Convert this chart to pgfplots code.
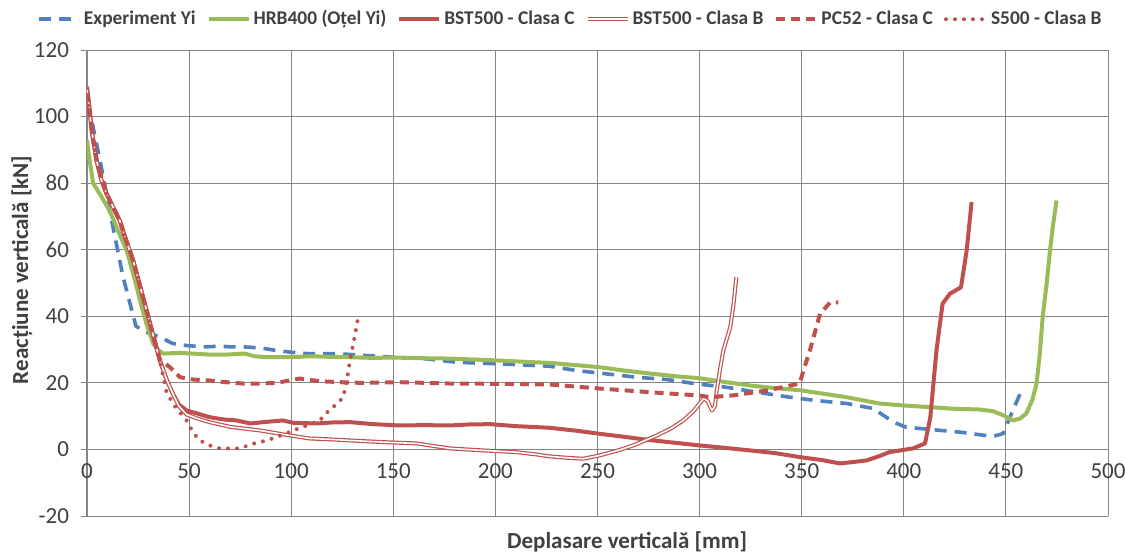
\documentclass[border=0pt]{standalone}
\usepackage{fontspec}
\setmainfont{Carlito}
\usepackage{pgfplots}
\pgfplotsset{compat=1.18}
\definecolor{cblue}{HTML}{4F81BD}
\definecolor{cgreen}{HTML}{9BBB59}
\definecolor{cred}{HTML}{C0504D}
\definecolor{cgrid}{HTML}{868686}
\definecolor{ctext}{HTML}{404040}
\begin{document}
\begin{tikzpicture}
\begin{axis}[
  at={(0,0)}, anchor=south west,
  scale only axis, width=510.5pt, height=233pt,
  xmin=0, xmax=500, ymin=-20, ymax=120,
  xtick={0,50,...,500}, ytick={-20,0,...,120},
  axis x line=middle, axis y line=left,
  axis line style={-, cgrid, line width=0.6pt},
  hide obscured x ticks=false, hide obscured y ticks=false,
  grid=major, grid style={cgrid, line width=0.5pt},
  tick style={cgrid, line width=0.5pt}, tick align=outside, major tick length=3pt,
  /pgf/number format/assume math mode=true,
  ticklabel style={font=\fontsize{11.5}{13}\selectfont, text=ctext},
  yticklabel style={xshift=-2.5pt},
  xticklabel style={yshift=-0.5pt},
  xlabel={Deplasare verticală [mm]},
  ylabel={Reacțiune verticală [kN]},
  xlabel style={at={(axis description cs:0.529,-0.056)}, anchor=center, font=\bfseries\fontsize{11.5}{13}\selectfont, text=ctext},
  ylabel style={at={(axis description cs:-0.0637,0.528)}, anchor=center, rotate=0, font=\bfseries\fontsize{11.5}{13}\selectfont, text=ctext},
  legend columns=6,
  legend style={at={(axis description cs:0.474,1.066)}, anchor=center, draw=none, fill=none,
    font=\bfseries\fontsize{9.7}{12}\selectfont, text=ctext,
    /tikz/every even column/.append style={column sep=4pt},
    nodes={inner xsep=1.5pt}},
  legend image code/.code={\draw[#1] (0pt,0pt) -- (20pt,0pt);},
  line join=round,
]
% Experiment Yi
\addplot[cblue, line width=1.8pt, dash pattern=on 6pt off 4pt] coordinates {
(0.5,104) (2.3,98.8) (6.4,86.8) (11,72) (17.7,51.7) (24,37) (30,35) (36,33.7) (42,31.8) (49,31.2) (57,30.8) (65,31) (71,30.8) (77,30.8) (85,30.5) (93,29.7) (100,29.2) (107.6,28.8) (122,28.8) (137,28.2) (150,27.7) (164.6,27.3) (181,26.2) (197,25.8) (210,25.5) (226.7,25) (239.8,23.7) (254.5,22.7) (269,21.7) (284,21) (298.6,19.7) (313,18.7) (328,17.2) (344,15.7) (357,14.7) (372,13.8) (385,12.3) (395,8.2) (401,6.7) (413,6) (427.5,5.2) (443.7,3.9) (448.7,4.8) (452,9.7) (457,16.8)
};
\addlegendentry{Experiment Yi}
% HRB400
\addplot[cgreen, line width=2pt] coordinates {
(0,93) (1,88) (3,80) (7,76) (11,71.8) (15,66) (19.4,59.8) (23,52) (26,44.7) (29,38) (32.4,31.8) (35,29.8) (37.3,28.8) (45,29) (52,28.8) (60,28.5) (68,28.5) (77.3,28.8) (82,28) (88,27.7) (99.7,27.7) (109,28) (120,27.8) (128.8,27.7) (140,27.5) (150,27.6) (165,27.4) (177.8,27.3) (190,27) (202,26.7) (215,26.3) (226.7,26) (240,25.3) (251,24.7) (263,23.7) (275.7,22.8) (288,22) (300,21.4) (312,20.3) (324.7,19.2) (339,18.3) (349,17.8) (360,16.8) (372,15.7) (388,13.8) (400,13.2) (413,12.7) (425,12.2) (437,12) (443.7,11.5) (449,10.2) (453.5,8.7) (457,9.3) (460,10.8) (463,15) (465,19.8) (466.5,28) (468,39.7) (470,50) (471.6,59.8) (473,67) (474.8,74.8)
};
\addlegendentry{HRB400 (Oțel Yi)}
% BST500 C
\addplot[cred, line width=2pt] coordinates {
(0,109) (1,104) (2.5,95) (4.7,86.8) (7,81) (9.6,76.8) (13,72.5) (16,68.8) (19,63) (22.6,56.8) (26,49) (29.2,41.7) (32.5,34) (35.7,26.7) (39,21) (42,16.8) (45,13.5) (48.8,11.7) (54,10.8) (60,9.7) (67,9) (73.3,8.7) (80,7.8) (88,8.3) (96,8.7) (101,8) (112.5,7.8) (120,8.1) (128.8,8.2) (140,7.6) (153,7.2) (165,7.3) (177.8,7.2) (187,7.5) (197.4,7.6) (210,7) (226.7,6.5) (240,5.6) (251,4.7) (263,3.8) (275.7,2.8) (288,2) (300,1.2) (312,0.5) (324.7,-0.3) (337,-1.1) (349,-2.3) (360,-3.2) (368.7,-4.2) (375,-3.8) (381.8,-3.3) (388,-2) (393,-0.8) (404.5,0.3) (410.4,1.8) (413,9.7) (416,29.7) (419,43.8) (422.6,46.8) (428,48.7) (430.8,59.8) (433.2,74.3)
};
\addlegendentry{BST500 - Clasa C}
% BST500 B
\addplot[cred, line width=0.6pt, double=white, double distance=0.8pt] coordinates {
(0,108) (1,103) (2.5,95) (4.7,86.8) (7,81) (9.6,76.8) (13,72.5) (16,68.8) (19,63) (22.6,56.8) (26,49) (29.2,41.7) (32.5,34) (35.7,26.7) (39,21) (42,16.8) (45,13) (48.8,10.5) (54,9.3) (60,8.2) (70,6.8) (84.7,5.7) (99.4,4.2) (109,3.3) (120,3) (128.8,2.7) (145,2.2) (161.5,1.8) (170,1) (177.8,0.3) (194,-0.3) (210,-0.8) (220,-1.5) (226.7,-2.1) (235,-2.5) (243,-2.8) (251,-1.8) (260,-0.3) (267.5,1.2) (279,4.2) (286,6.3) (292,8.7) (297,11.5) (302,15.3) (304,14.5) (306,11.7) (307.5,13) (308.4,17.7) (310,24) (311.6,29.7) (315,36.7) (316.5,43) (318,51.7)
};
\addlegendentry{BST500 - Clasa B}
% PC52 C
\addplot[cred, line width=2pt, dash pattern=on 4.5pt off 3pt] coordinates {
(0,107) (2.5,95) (4.7,86.8) (9.6,76.8) (16,68.8) (22.6,56.8) (29.2,41.7) (32.5,34) (35.7,27) (40.6,24.7) (45.5,21.7) (52,21) (60,20.7) (68,20.2) (76.4,19.8) (85,19.8) (93,20) (104,21.3) (114,20.5) (124,20.2) (134,20) (153,20.2) (177.8,19.8) (202,19.7) (227,19.5) (251,18.3) (275.7,17.2) (300,16.2) (305,15.7) (316,16.2) (333,17.7) (349,19.8) (351,24) (354,29.7) (359,40.8) (364,44.2) (368,44.2)
};
\addlegendentry{PC52 - Clasa C}
% S500 B
\addplot[cred, line width=2pt, dash pattern=on 0pt off 4.5pt, line cap=round] coordinates {
(0,106) (2.5,95) (4.7,86.8) (9.6,76.8) (16,68.8) (22.6,56.8) (29.2,41.7) (32.5,34) (35.7,26.7) (39,17) (43,13) (48.8,8.7) (52,5) (55.3,2.7) (60,1.2) (65,0.3) (75,0.3) (80,1.5) (88,2.7) (95,4.2) (101,5.7) (108,7.3) (114,8.7) (117,10.8) (121,13) (124,14.7) (125.5,15.7) (127,20) (128.8,26.7) (130.8,33) (132.8,39.7)
};
\addlegendentry{S500 - Clasa B}
\end{axis}
\pgfresetboundingbox
\useasboundingbox (-43.5pt,-19pt) rectangle (519pt,258pt);
\end{tikzpicture}
\end{document}
